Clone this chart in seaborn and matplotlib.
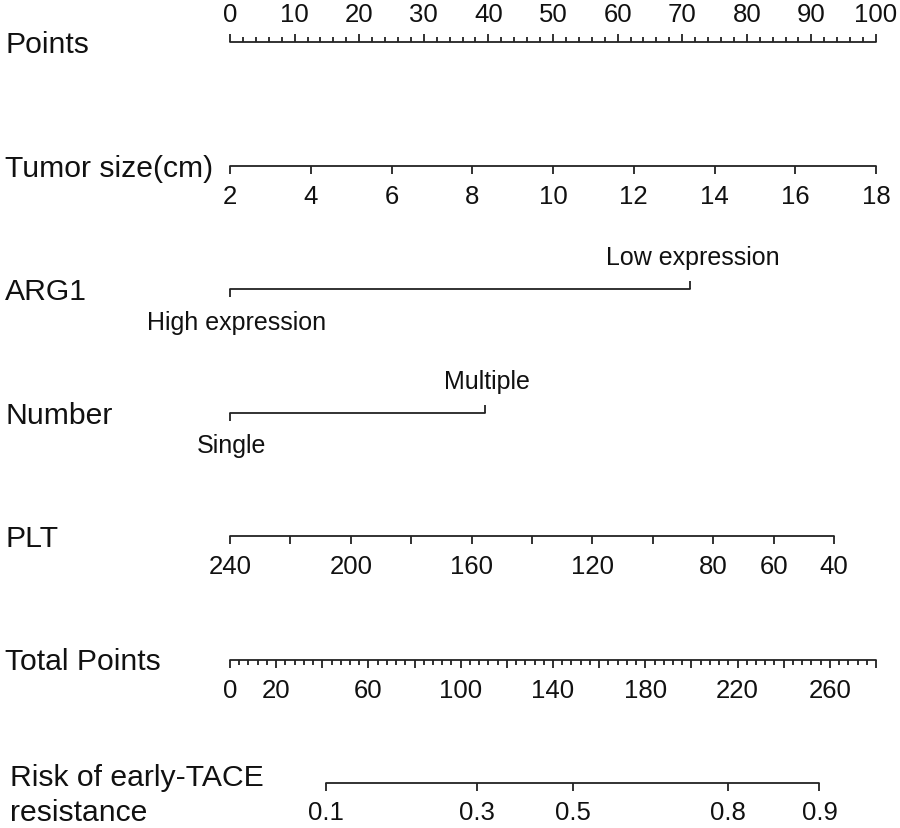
import numpy as np
import pandas as pd
import matplotlib
matplotlib.use("Agg")
import matplotlib.pyplot as plt
import seaborn as sns

# ---------------- data ----------------
points_major = list(range(0, 101, 10))
points_minor = list(range(0, 101, 2))

tumor_values = [2, 4, 6, 8, 10, 12, 14, 16, 18]
tumor_range = (2, 18)           # maps to 0..100 points

arg1_levels = ["High expression", "Low expression"]
arg1_points = [0, 71.2]

number_levels = ["Single", "Multiple"]
number_points = [0, 39.5]

plt_ticks = [240, 220, 200, 180, 160, 140, 120, 100, 80, 60, 40]
plt_labels = [240, 200, 160, 120, 80, 60, 40]
plt_range = (240, 40)
plt_points_range = (0, 93.5)

total_major = list(range(0, 281, 20))
total_minor = list(range(0, 281, 4))
total_labels = [0, 20, 60, 100, 140, 180, 220, 260]
total_max = 280

risk_values = [0.1, 0.3, 0.5, 0.8, 0.9]
risk_tp_at_half = 148.5
risk_tp_per_logit = 48.7

row_names = ["Points", "Tumor size(cm)", "ARG1", "Number", "PLT",
             "Total Points", "Risk of early-TACE\nresistance"]

# ---------------- layout ----------------
W, H = 900, 829
x0_px, x100_px = 230, 876
px_per_pt = (x100_px - x0_px) / 100.0
row_y0, row_dy = 43, 123.5

sns.set_theme(style="white")
plt.rcParams["font.family"] = ["Liberation Sans", "DejaVu Sans"]

fig = plt.figure(figsize=(W / 100, H / 100), dpi=100)
ax = fig.add_axes([0, 0, 1, 1])
ax.set_xlim(-x0_px / px_per_pt, (W - x0_px) / px_per_pt)
ax.set_ylim(H, 0)
ax.axis("off")

lw = 1.3
col = "#222222"
txt = "#111111"
tick_fs = 18.5
lab_fs = 18
row_fs = 21.7
major_len = 8
minor_len = 5


def row_y(i):
    return row_y0 + i * row_dy


def hline(x1, x2, y):
    df = pd.DataFrame({"x": [x1, x2], "y": [y, y]})
    sns.lineplot(data=df, x="x", y="y", ax=ax, color=col, lw=lw,
                 estimator=None, sort=False)


def ticks(xs, y, length, up):
    y2 = y - length if up else y + length
    ax.vlines(xs, y, y2, color=col, lw=lw)


# row labels
left = -x0_px / px_per_pt
for i, name in enumerate(row_names):
    y = row_y(i)
    if i == 6:
        ax.text(left + 10 / px_per_pt, y - 6, "Risk of early-TACE",
                fontsize=row_fs, va="center", ha="left", color=txt)
        ax.text(left + 10 / px_per_pt, y + 29, "resistance",
                fontsize=row_fs, va="center", ha="left", color=txt)
    else:
        ax.text(left + 5 / px_per_pt, y + 2, name,
                fontsize=row_fs, va="center", ha="left", color=txt)

# Points
y = row_y(0)
hline(0, 100, y)
ticks(points_major, y, major_len, up=True)
ticks([p for p in points_minor if p % 10], y, minor_len, up=True)
for p in points_major:
    ax.text(p, y - 28, str(p), fontsize=tick_fs, ha="center", va="center",
            color=txt)

# Tumor size
y = row_y(1)
tpts = [(v - tumor_range[0]) / (tumor_range[1] - tumor_range[0]) * 100
        for v in tumor_values]
hline(tpts[0], tpts[-1], y)
ticks(tpts, y, major_len, up=False)
for v, p in zip(tumor_values, tpts):
    ax.text(p, y + 30, str(v), fontsize=tick_fs, ha="center", va="center",
            color=txt)

# ARG1
y = row_y(2)
hline(arg1_points[0], arg1_points[1], y)
ticks([arg1_points[0]], y, major_len, up=False)
ticks([arg1_points[1]], y, major_len, up=True)
ax.text(arg1_points[0] + 1.0, y + 33, arg1_levels[0], fontsize=lab_fs,
        ha="center", va="center", color=txt)
ax.text(arg1_points[1] + 0.5, y - 32, arg1_levels[1], fontsize=lab_fs,
        ha="center", va="center", color=txt)

# Number
y = row_y(3)
hline(number_points[0], number_points[1], y)
ticks([number_points[0]], y, major_len, up=False)
ticks([number_points[1]], y, major_len, up=True)
ax.text(number_points[0] + 0.2, y + 33, number_levels[0], fontsize=lab_fs,
        ha="center", va="center", color=txt)
ax.text(number_points[1] + 0.2, y - 32, number_levels[1], fontsize=lab_fs,
        ha="center", va="center", color=txt)

# PLT
y = row_y(4)


def plt_to_pts(v):
    f = (v - plt_range[0]) / (plt_range[1] - plt_range[0])
    return plt_points_range[0] + f * (plt_points_range[1] - plt_points_range[0])


ppts = [plt_to_pts(v) for v in plt_ticks]
hline(min(ppts), max(ppts), y)
ticks(ppts, y, major_len, up=False)
for v in plt_labels:
    ax.text(plt_to_pts(v), y + 30, str(v), fontsize=tick_fs, ha="center",
            va="center", color=txt)

# Total points
y = row_y(5)
scale = 100.0 / total_max
hline(0, total_max * scale, y)
ticks([t * scale for t in total_major], y, major_len, up=False)
ticks([t * scale for t in total_minor if t % 20], y, minor_len, up=False)
for t in total_labels:
    ax.text(t * scale, y + 31, str(t), fontsize=tick_fs, ha="center",
            va="center", color=txt)

# Risk
y = row_y(6)
rpts = [(risk_tp_at_half + risk_tp_per_logit * np.log(r / (1 - r))) * scale
        for r in risk_values]
hline(rpts[0], rpts[-1], y)
ticks(rpts, y, major_len, up=False)
for r, p in zip(risk_values, rpts):
    ax.text(p, y + 29, f"{r:g}", fontsize=tick_fs, ha="center", va="center",
            color=txt)

fig.savefig("out.png", dpi=100)
